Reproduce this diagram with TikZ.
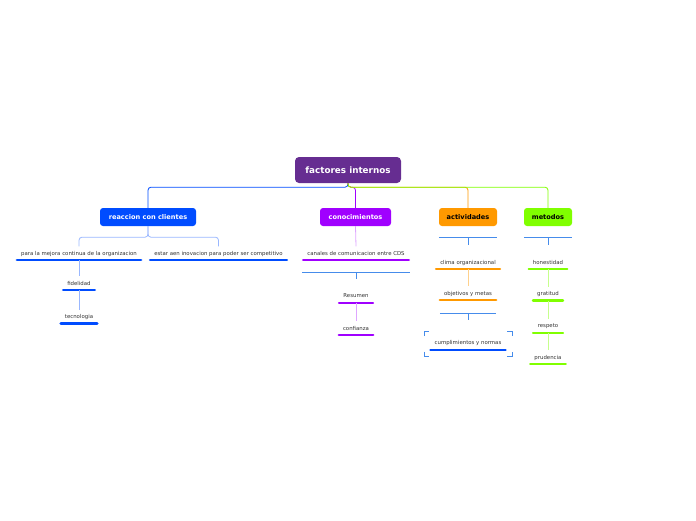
\documentclass[tikz,border=0pt]{standalone}
\usepackage{fontspec}
\setmainfont{DejaVu Sans}
\usetikzlibrary{positioning}

\definecolor{rootpurple}{RGB}{102,45,145}
\definecolor{reablue}{RGB}{0,76,255}
\definecolor{conpurple}{RGB}{160,0,255}
\definecolor{actorange}{RGB}{255,153,0}
\definecolor{metgreen}{RGB}{128,255,0}
\definecolor{summblue}{RGB}{70,140,235}
\definecolor{subtext}{RGB}{51,51,51}

\begin{document}
\begin{tikzpicture}[
    x=1pt, y=-1pt,
    root/.style={
        rectangle, fill=rootpurple, text=white,
        font=\fontsize{8.8}{10}\selectfont\bfseries,
        minimum width=106pt, minimum height=26pt,
        inner sep=0pt, rounded corners=4pt
    },
    topic/.style={
        rectangle, font=\fontsize{6.6}{8}\selectfont\bfseries,
        minimum height=18pt, inner sep=0pt, rounded corners=3pt
    },
    sub/.style={
        font=\fontsize{5.4}{6.5}\selectfont, text=subtext,
        inner xsep=4pt, inner ysep=0pt,
        text height=3.9pt, text depth=0pt, minimum height=13.4pt
    },
    uline/.style={line width=2.5pt, line cap=round},
    conn/.style={line width=0.8pt, rounded corners=3pt},
    subconn/.style={line width=0.8pt, rounded corners=3pt},
    summ/.style={line width=0.8pt, draw=summblue},
    bound/.style={line width=0.9pt, draw=summblue}
]
\useasboundingbox (0,0) rectangle (696,520);

%% Central topic
\node (root) [root] at (348,170) {factores internos};

%% Main topics
\node (rea) [topic, fill=reablue, text=white, minimum width=96pt] at (148,217) {reaccion con clientes};
\node (con) [topic, fill=conpurple, text=white, minimum width=71pt] at (355.5,217) {conocimientos};
\node (act) [topic, fill=actorange, minimum width=58pt] at (468,217) {actividades};
\node (met) [topic, fill=metgreen, minimum width=48pt] at (548,217) {metodos};

%% reaccion con clientes
\node (mejora) [sub] at (79,253.3) {para la mejora continua de la organizacion};
\node (inova)  [sub] at (218.5,253.3) {estar aen inovacion para poder ser competitivo};
\node (fide)   [sub, below=16pt of mejora] {fidelidad};
\node (tecno)  [sub, minimum width=35pt, below=19.5pt of fide] {tecnologia};

%% conocimientos
\node (canal)  [sub] at (356,253.3) {canales de comunicacion entre CDS};
\node (resu)   [sub, minimum width=33.5pt] at (356,296) {Resumen};
\node (confi)  [sub, minimum width=33.5pt, below=18.3pt of resu] {confianza};

%% actividades
\node (clima)  [sub] at (468,262.3) {clima organizacional};
\node (objet)  [sub, below=17pt of clima] {objetivos y metas};
\node (cumpl)  [sub] at (468,343) {cumplimientos y normas};

%% metodos
\node (hone)   [sub] at (548,262.3) {honestidad};
\node (grat)   [sub, minimum width=29.5pt, below=17.5pt of hone] {gratitud};
\node (resp)   [sub, minimum width=29.5pt, below=18.5pt of grat] {respeto};
\node (prud)   [sub, below=17.5pt of resp] {prudencia};

%% Underlines
\draw [uline, reablue]   (mejora.south west) -- (mejora.south east);
\draw [uline, reablue]   (inova.south west)  -- (inova.south east);
\draw [uline, reablue]   (fide.south west)   -- (fide.south east);
\draw [uline, reablue]   (tecno.south west)  -- (tecno.south east);
\draw [uline, conpurple] (canal.south west)  -- (canal.south east);
\draw [uline, conpurple] (resu.south west)   -- (resu.south east);
\draw [uline, conpurple] (confi.south west)  -- (confi.south east);
\draw [uline, actorange] (clima.south west)  -- (clima.south east);
\draw [uline, actorange] (objet.south west)  -- (objet.south east);
\draw [uline, reablue]   (cumpl.south west)  -- (cumpl.south east);
\draw [uline, metgreen]  (hone.south west)   -- (hone.south east);
\draw [uline, metgreen]  (grat.south west)   -- (grat.south east);
\draw [uline, metgreen]  (resp.south west)   -- (resp.south east);
\draw [uline, metgreen]  (prud.south west)   -- (prud.south east);

%% Main connectors
\draw [conn, reablue]   (root.south) -- ++(0,4) -| (rea.north);
\draw [conn, conpurple] (root.south) -- ++(0,4) -| (con.north);
\draw [conn, actorange] (root.south) -- ++(0,4) -| (act.north);
\draw [conn, metgreen]  (root.south) -- ++(0,4) -| (met.north);

%% Sub connectors
\draw [subconn, reablue!40]   (rea.south) -- ++(0,11) -| (mejora.north);
\draw [subconn, reablue!40]   (rea.south) -- ++(0,11) -| (inova.north);
\draw [subconn, reablue!40]   (mejora.south) -- (fide.north);
\draw [subconn, reablue!40]   (fide.south) -- (tecno.north);
\draw [subconn, conpurple!35] (con.south) -- (canal.north);
\draw [subconn, conpurple!35] (resu.south) -- (confi.north);
\draw [subconn, actorange!45] (clima.south) -- (objet.north);
\draw [subconn, metgreen!45]  (hone.south) -- (grat.north);
\draw [subconn, metgreen!45]  (grat.south) -- (resp.north);
\draw [subconn, metgreen!45]  (resp.south) -- (prud.north);

%% Summary lines
\draw [summ] ([yshift=-11.5pt]act.south west) -- ([yshift=-11.5pt]act.south east);
\draw [summ] ([yshift=-11.5pt]act.south) -- ++(0,7);
\draw [summ] ([yshift=-11.5pt]met.south west) -- ([yshift=-11.5pt]met.south east);
\draw [summ] ([yshift=-11.5pt]met.south) -- ++(0,7);
\draw [summ] ([xshift=-1pt,yshift=-12pt]canal.south west) -- ([xshift=1pt,yshift=-12pt]canal.south east);
\draw [summ] ([yshift=-12pt]canal.south) -- ++(0,6.5);
\draw [summ] ([yshift=-13.5pt]objet.south west) -- ([yshift=-13.5pt]objet.south east);
\draw [summ] ([yshift=-13.5pt]objet.south) -- ++(0,6);

%% Boundary
\draw [bound] (424,336) |- (429,331);
\draw [bound] (507,331) -| (512,336);
\draw [bound] (424,351.5) |- (429,356.5);
\draw [bound] (507,356.5) -| (512,351.5);

\end{tikzpicture}
\end{document}
